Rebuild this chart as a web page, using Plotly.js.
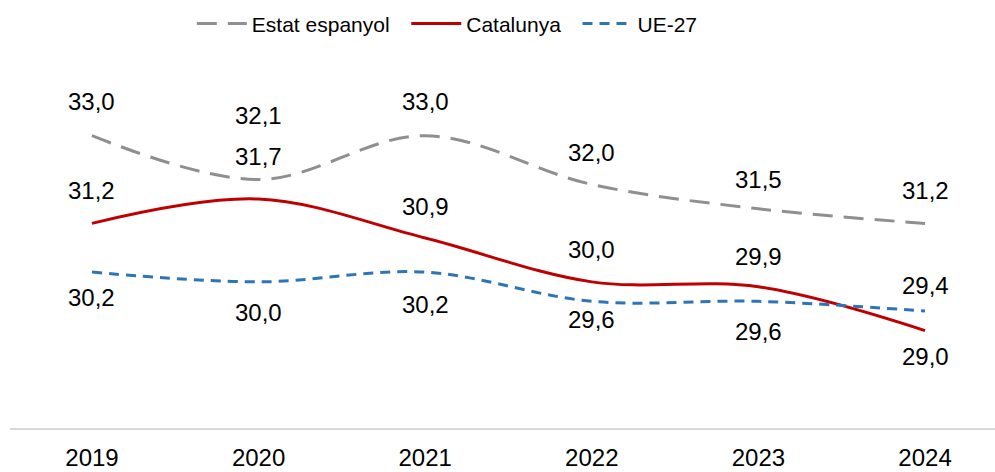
<!DOCTYPE html>
<html>
<head>
<meta charset="utf-8">
<script src="https://cdn.plot.ly/plotly-3.0.1.min.js"></script>
<style>html,body{margin:0;padding:0;background:#fff;}#chart{width:995px;height:472px;}</style>
</head>
<body>
<div id="chart"></div>
<script>
const years = [2019, 2020, 2021, 2022, 2023, 2024];
const estatEspanyol = [33.0, 32.1, 33.0, 32.0, 31.5, 31.2];
const catalunya = [31.2, 31.7, 30.9, 30.0, 29.9, 29.0];
const ue27 = [30.2, 30.0, 30.2, 29.6, 29.6, 29.4];
const seriesNames = ["Estat espanyol", "Catalunya", "UE-27"];

// label offsets in pixels (style, not data)
const estatShift = [-34, -64, -34, -32, -29, -33];
const catShift = [-33, -43, -32, -32, -30, 26];
const ueShift = [25, 31, 32, 18, 30, -26];

const fmt = v => v.toFixed(1).replace('.', ',');
const FONT = "Liberation Sans, Arial, sans-serif";
const PAD = '\u00a0\u00a0';

const traces = [
  {x: years, y: estatEspanyol, name: seriesNames[0] + PAD, mode: 'lines',
   line: {color: '#8f8f8f', width: 3, dash: '20px,11px', shape: 'spline', smoothing: 1}},
  {x: years, y: catalunya, name: seriesNames[1] + PAD, mode: 'lines',
   line: {color: '#c00000', width: 3, shape: 'spline', smoothing: 1}},
  {x: years, y: ue27, name: seriesNames[2], mode: 'lines',
   line: {color: '#2e75b6', width: 3, dash: '10px,7px', shape: 'spline', smoothing: 1}}
];

const annotations = [];
function addLabels(vals, shifts) {
  vals.forEach((v, i) => {
    annotations.push({x: years[i], y: v, xref: 'x', yref: 'y', text: fmt(v),
      showarrow: false, yshift: -shifts[i], font: {family: FONT, size: 24, color: '#000'}});
  });
}
addLabels(estatEspanyol, estatShift);
addLabels(catalunya, catShift);
addLabels(ue27, ueShift);

const layout = {
  width: 995, height: 472,
  margin: {l: 10, r: 0, t: 87, b: 44},
  paper_bgcolor: '#fff', plot_bgcolor: '#fff',
  showlegend: true,
  legend: {orientation: 'h', x: 0.444, xanchor: 'center', y: 1.185, yanchor: 'middle',
    font: {family: FONT, size: 21, color: '#000'}, itemwidth: 50, traceorder: 'normal'},
  xaxis: {range: [2018.508, 2024.42], tickvals: years, ticktext: years.map(String),
    showgrid: false, zeroline: false, showline: true, linecolor: '#d9d9d9', linewidth: 2,
    ticks: '', ticklabelstandoff: 7, tickfont: {family: FONT, size: 24, color: '#000'}},
  yaxis: {range: [27, 34], showgrid: false, zeroline: false, showticklabels: false, showline: false, ticks: ''},
  annotations: annotations
};

Plotly.newPlot('chart', traces, layout, {displayModeBar: false, staticPlot: true});
</script>
</body>
</html>
